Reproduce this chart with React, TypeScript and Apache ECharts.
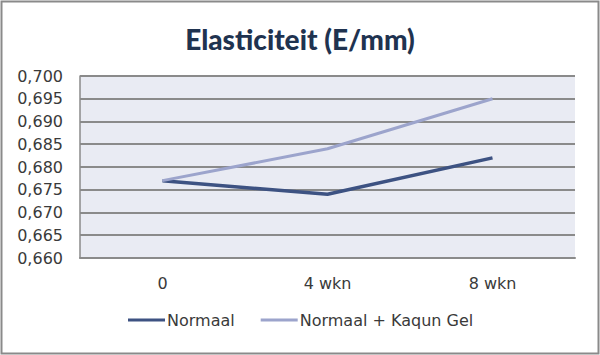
import React, { useEffect, useRef } from "react";
import * as echarts from "echarts";

const categories = ["0", "4 wkn", "8 wkn"];
const normaal = [0.677, 0.674, 0.682];
const kaqun = [0.677, 0.684, 0.695];
const seriesNames = ["Normaal", "Normaal + Kaqun Gel"];
const yMin = 0.66;
const yMax = 0.7;
const yStep = 0.005;

const FONT = "'DejaVu Sans', sans-serif";
const TITLE_FONT = "Lato, 'Open Sans', sans-serif";

export default function App() {
  const ref = useRef<HTMLDivElement>(null);
  useEffect(() => {
    if (!ref.current) return;
    const chart = echarts.init(ref.current, null, { renderer: "svg" });
    chart.setOption({
      animation: false,
      backgroundColor: "#ffffff",
      title: {
        text: "Elasticiteit (E/mm)",
        left: "center",
        top: 20,
        textStyle: {
          fontFamily: TITLE_FONT,
          fontSize: 28,
          fontWeight: 900,
          color: "#1f3350",
        },
      },
      graphic: [
        {
          type: "rect",
          shape: { x: 1.5, y: 1.5, width: 597, height: 352 },
          style: { fill: "none", stroke: "#8a8a8a", lineWidth: 2 },
          silent: true,
        },
      ],
      grid: { left: 80, right: 25, top: 76, bottom: 97, containLabel: false, backgroundColor: "#e9ebf3", show: true, borderWidth: 0 },
      legend: {
        data: seriesNames,
        bottom: 22,
        left: 123,
        itemWidth: 37,
        itemHeight: 3,
        itemGap: 26,
        icon: "rect",
        textStyle: { fontFamily: FONT, fontSize: 16, color: "#3a3a3a", padding: [0, 0, 0, -3] },
      },
      xAxis: {
        type: "category",
        data: categories,
        boundaryGap: true,
        axisLine: { show: true, lineStyle: { color: "#8a8a8a", width: 2 } },
        axisTick: { show: false },
        axisLabel: { fontFamily: FONT, fontSize: 16, color: "#3a3a3a", margin: 17 },
      },
      yAxis: {
        type: "value",
        min: yMin,
        max: yMax,
        interval: yStep,
        axisLine: { show: true, lineStyle: { color: "#8a8a8a", width: 1.5 } },
        axisTick: { show: false },
        splitLine: { show: true, lineStyle: { color: "#8a8a8a", width: 2 } },
        axisLabel: {
          fontFamily: FONT,
          fontSize: 16,
          color: "#3a3a3a",
          margin: 17,
          formatter: (v: number) => v.toFixed(3).replace(".", ","),
        },
      },
      series: [
        {
          name: seriesNames[0],
          type: "line",
          data: normaal,
          symbol: "none",
          lineStyle: { color: "#3d5282", width: 3.5 },
          itemStyle: { color: "#3d5282" },
        },
        {
          name: seriesNames[1],
          type: "line",
          data: kaqun,
          symbol: "none",
          lineStyle: { color: "#9ca4cc", width: 3 },
          itemStyle: { color: "#9ca4cc" },
        },
      ],
    });
    return () => chart.dispose();
  }, []);
  return (
    <div
      ref={ref}
      style={{ position: "fixed", left: 0, top: 0, width: 600, height: 355 }}
    />
  );
}
